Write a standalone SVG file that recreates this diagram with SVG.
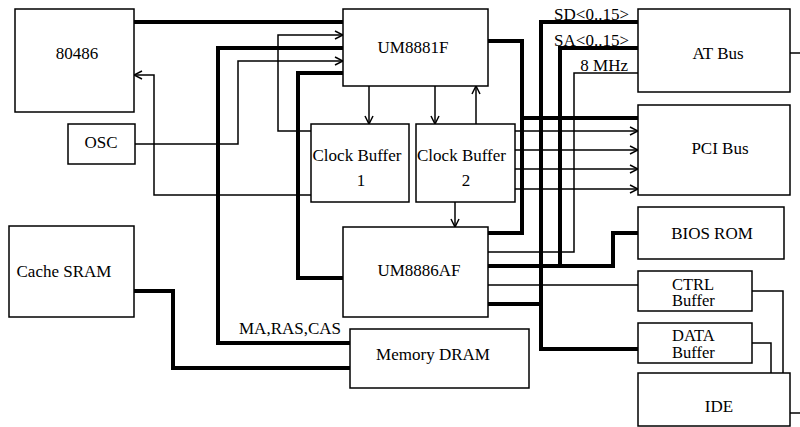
<svg xmlns="http://www.w3.org/2000/svg" width="800" height="427" viewBox="0 0 800 427">
<style>
.box{fill:#fff;stroke:#000;stroke-width:1.5}
.c{text-anchor:middle}
.e{text-anchor:end}
.thick{fill:none;stroke:#000;stroke-width:4;stroke-linecap:round}
.thin{fill:none;stroke:#000;stroke-width:1.5}
.a{marker-end:url(#arr)}
</style>
<defs>
<marker id="arr" markerWidth="10" markerHeight="10" refX="9" refY="5" orient="auto" markerUnits="userSpaceOnUse"><path d="M1,1 L9,5 L1,9" fill="none" stroke="#000" stroke-width="1.5"/></marker>
</defs>
<rect width="800" height="427" fill="#fff"/>
<g font-family="'Liberation Serif', 'DejaVu Serif', serif" font-size="17" fill="#000">
<g id="connectors">
<path class="thick" d="M134,22 H343"/>
<path class="thick" d="M343,48 H218 V343 H350"/>
<path class="thick" d="M343,73 H298 V278 H343"/>
<path class="thick" d="M488,41 H522 V233 H488"/>
<path class="thick" d="M522,118 H638"/>
<path class="thick" d="M638,22 H541 V349 H638"/>
<path class="thick" d="M488,304 H541"/>
<path class="thick" d="M638,48 H560 V266"/>
<path class="thick" d="M488,266 H613 V233 H638"/>
<path class="thick" d="M134,291 H173 V368 H350"/>
<path class="thin a" d="M311,131 H278 V35 H343"/>
<path class="thin a" d="M135,144 H238 V61 H343"/>
<path class="thin a" d="M311,195 H154 V75 H134"/>
<path class="thin a" d="M369,86 V124"/>
<path class="thin a" d="M435,86 V124"/>
<path class="thin a" d="M476,124 V86"/>
<path class="thin a" d="M455,202 V227"/>
<path class="thin a" d="M515,131 H638"/>
<path class="thin a" d="M515,150 H638"/>
<path class="thin a" d="M515,169 H638"/>
<path class="thin a" d="M515,189 H638"/>
<path class="thin" d="M488,252 H574 V73 H638"/>
<path class="thin" d="M488,285 H638"/>
<path class="thin" d="M752,291 H783 V373"/>
<path class="thin" d="M752,343 H771 V373"/>
<path class="thin" d="M790,53 H800"/>
<path class="thin" d="M790,413 H800"/>
<text x="239" y="334">MA,RAS,CAS</text>
<text class="e" x="629" y="20">SD&lt;0..15&gt;</text>
<text class="e" x="629" y="45.5">SA&lt;0..15&gt;</text>
<text class="e" x="628" y="71">8 MHz</text>
</g>
<g id="n80486"><rect class="box" x="15" y="9" width="119" height="103"/><text class="c" x="77" y="59">80486</text></g>
<g id="osc"><rect class="box" x="68" y="124" width="67" height="40"/><text class="c" x="101" y="148">OSC</text></g>
<g id="um8881f"><rect class="box" x="343" y="9" width="145" height="77"/><text class="c" x="413" y="52.5">UM8881F</text></g>
<g id="clockbuffer1"><rect class="box" x="311" y="124" width="98" height="78"/><text class="c" x="357" y="161">Clock Buffer</text><text class="c" x="361" y="186">1</text></g>
<g id="clockbuffer2"><rect class="box" x="416" y="124" width="99" height="78"/><text class="c" x="461.5" y="161">Clock Buffer</text><text class="c" x="466" y="186">2</text></g>
<g id="atbus"><rect class="box" x="638" y="9" width="152" height="83"/><text class="c" x="718" y="59">AT Bus</text></g>
<g id="pcibus"><rect class="box" x="638" y="105" width="152" height="90"/><text class="c" x="720" y="154">PCI Bus</text></g>
<g id="biosrom"><rect class="box" x="638" y="207" width="146" height="52"/><text class="c" x="712" y="239">BIOS ROM</text></g>
<g id="ctrlbuffer"><rect class="box" x="638" y="271" width="114" height="40"/><text x="672" y="290" font-size="16.5">CTRL</text><text x="672" y="306" font-size="16.5">Buffer</text></g>
<g id="databuffer"><rect class="box" x="638" y="323" width="114" height="40"/><text x="672" y="341" font-size="16.5">DATA</text><text x="672" y="357.5" font-size="16.5">Buffer</text></g>
<g id="ide"><rect class="box" x="638" y="373" width="152" height="53"/><text class="c" x="719" y="411.5">IDE</text></g>
<g id="um8886af"><rect class="box" x="343" y="227" width="145" height="90"/><text class="c" x="419" y="276">UM8886AF</text></g>
<g id="memorydram"><rect class="box" x="350" y="329" width="179" height="59"/><text class="c" x="433" y="359.5">Memory DRAM</text></g>
<g id="cachesram"><rect class="box" x="9" y="226" width="125" height="91"/><text class="c" x="64" y="276.5">Cache SRAM</text></g>
</g>
</svg>
